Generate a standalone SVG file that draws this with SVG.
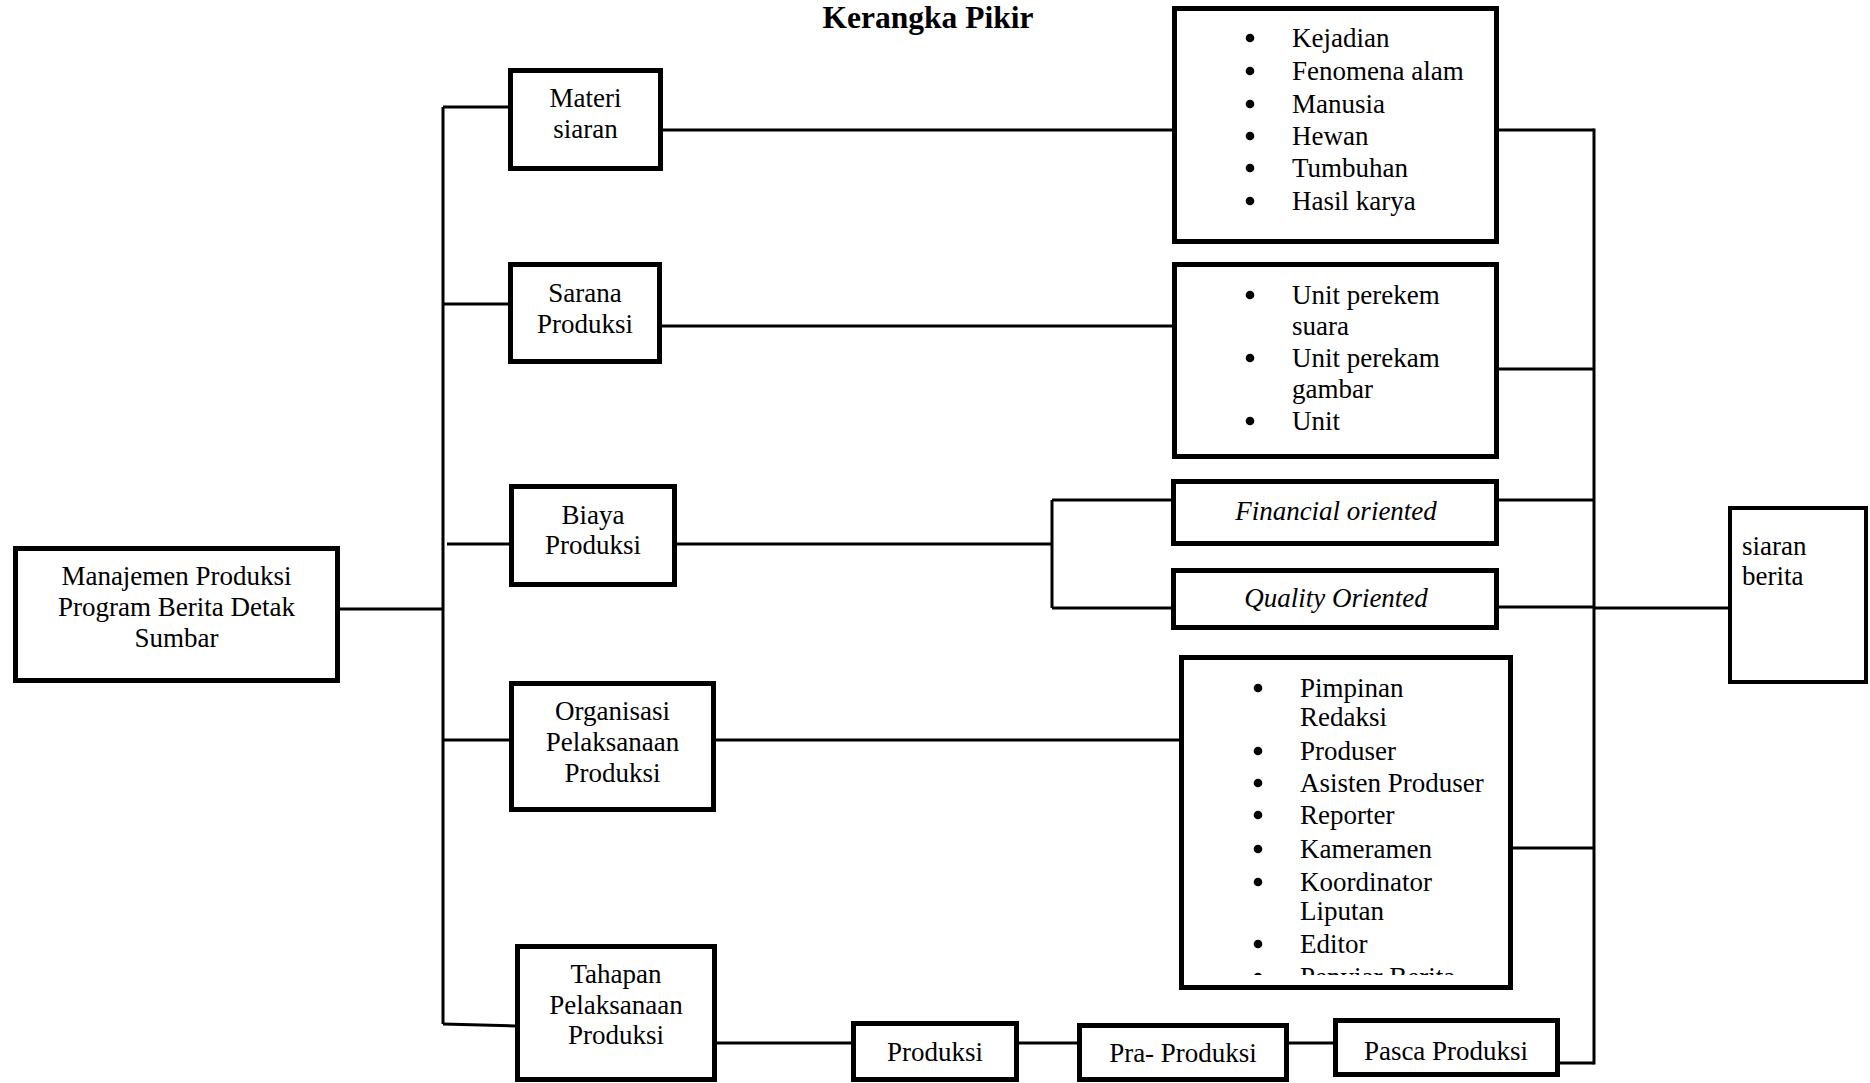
<svg xmlns="http://www.w3.org/2000/svg" width="1870" height="1083" viewBox="0 0 1870 1083">
<style>
  text { font-family: "Liberation Serif", "Times New Roman", serif; font-size: 27px; fill: #000; }
  .c { text-anchor: middle; }
  .title { font-weight: bold; font-size: 31.5px; }
  .it { font-style: italic; }
  .box { fill: #fff; stroke: #000; stroke-width: 5; }
  .box4 { fill: #fff; stroke: #000; stroke-width: 4; }
  .conn line, .conn polyline { stroke: #000; stroke-width: 3; fill: none; }
  .bul { fill: #000; }
</style>
<defs>
  <clipPath id="orgclip"><rect x="1184" y="660" width="324" height="315"/></clipPath>
</defs>
<rect width="1870" height="1083" fill="#fff"/>

<text class="title c" x="928" y="28">Kerangka Pikir</text>

<g id="connectors" class="conn">
  <line x1="340" y1="609" x2="443" y2="609"/>
  <line x1="443" y1="107" x2="443" y2="1024"/>
  <line x1="443" y1="107" x2="508" y2="107"/>
  <line x1="443" y1="304" x2="508" y2="304"/>
  <line x1="447" y1="544" x2="509" y2="544"/>
  <line x1="443" y1="740" x2="509" y2="740"/>
  <line x1="443" y1="1024" x2="515" y2="1026"/>
  <line x1="663" y1="130" x2="1172" y2="130"/>
  <line x1="662" y1="326" x2="1172" y2="326"/>
  <line x1="677" y1="544" x2="1052" y2="544"/>
  <line x1="1052" y1="500" x2="1052" y2="608"/>
  <line x1="1052" y1="500" x2="1171" y2="500"/>
  <line x1="1052" y1="608" x2="1171" y2="608"/>
  <line x1="716" y1="740" x2="1179" y2="740"/>
  <line x1="717" y1="1043" x2="851" y2="1043"/>
  <line x1="1019" y1="1043" x2="1077" y2="1043"/>
  <line x1="1289" y1="1043" x2="1333" y2="1043"/>
  <line x1="1499" y1="130" x2="1594" y2="130"/>
  <line x1="1499" y1="369" x2="1594" y2="369"/>
  <line x1="1499" y1="500" x2="1594" y2="500"/>
  <line x1="1499" y1="607" x2="1594" y2="607"/>
  <line x1="1513" y1="848" x2="1594" y2="848"/>
  <line x1="1560" y1="1063" x2="1594" y2="1063"/>
  <line x1="1594" y1="128.5" x2="1594" y2="1064.5"/>
  <line x1="1594" y1="608" x2="1728" y2="608"/>
</g>

<g id="manajemen">
  <rect class="box" x="15.5" y="548.5" width="322" height="132"/>
  <text class="c" x="176.5" y="585">Manajemen Produksi</text>
  <text class="c" x="176.5" y="616">Program Berita Detak</text>
  <text class="c" x="176.5" y="647">Sumbar</text>
</g>

<g id="materi">
  <rect class="box" x="510.5" y="70.5" width="150" height="98"/>
  <text class="c" x="585.5" y="107">Materi</text>
  <text class="c" x="585.5" y="138">siaran</text>
</g>

<g id="sarana">
  <rect class="box" x="510.5" y="264.5" width="149" height="97"/>
  <text class="c" x="585" y="302">Sarana</text>
  <text class="c" x="585" y="333">Produksi</text>
</g>

<g id="biaya">
  <rect class="box" x="511.5" y="486.5" width="163" height="98"/>
  <text class="c" x="593" y="524">Biaya</text>
  <text class="c" x="593" y="554">Produksi</text>
</g>

<g id="organisasi">
  <rect class="box" x="511.5" y="683.5" width="202" height="126"/>
  <text class="c" x="612.5" y="720">Organisasi</text>
  <text class="c" x="612.5" y="751">Pelaksanaan</text>
  <text class="c" x="612.5" y="782">Produksi</text>
</g>

<g id="tahapan">
  <rect class="box" x="517.5" y="946.5" width="197" height="133"/>
  <text class="c" x="616" y="983">Tahapan</text>
  <text class="c" x="616" y="1014">Pelaksanaan</text>
  <text class="c" x="616" y="1044">Produksi</text>
</g>

<g id="materi-list">
  <rect class="box" x="1174.5" y="8.5" width="322" height="233"/>
  <circle class="bul" cx="1250" cy="38" r="4.3"/><text x="1292" y="47">Kejadian</text>
  <circle class="bul" cx="1250" cy="71" r="4.3"/><text x="1292" y="80">Fenomena alam</text>
  <circle class="bul" cx="1250" cy="104" r="4.3"/><text x="1292" y="113">Manusia</text>
  <circle class="bul" cx="1250" cy="136" r="4.3"/><text x="1292" y="145">Hewan</text>
  <circle class="bul" cx="1250" cy="168" r="4.3"/><text x="1292" y="177">Tumbuhan</text>
  <circle class="bul" cx="1250" cy="201" r="4.3"/><text x="1292" y="210">Hasil karya</text>
</g>

<g id="sarana-list">
  <rect class="box" x="1174.5" y="264.5" width="322" height="192"/>
  <circle class="bul" cx="1250" cy="295" r="4.3"/><text x="1292" y="304">Unit perekem</text>
  <text x="1292" y="335">suara</text>
  <circle class="bul" cx="1250" cy="358" r="4.3"/><text x="1292" y="367">Unit perekam</text>
  <text x="1292" y="398">gambar</text>
  <circle class="bul" cx="1250" cy="421" r="4.3"/><text x="1292" y="430">Unit</text>
</g>

<g id="financial">
  <rect class="box" x="1173.5" y="481.5" width="323" height="62"/>
  <text class="c it" x="1336" y="520">Financial oriented</text>
</g>

<g id="quality">
  <rect class="box" x="1173.5" y="570.5" width="323" height="57"/>
  <text class="c it" x="1336" y="607">Quality Oriented</text>
</g>

<g id="organisasi-list">
  <rect class="box" x="1181.5" y="657.5" width="329" height="330"/>
  <g clip-path="url(#orgclip)">
    <circle class="bul" cx="1258" cy="688" r="4.3"/><text x="1300" y="697">Pimpinan</text>
    <text x="1300" y="726">Redaksi</text>
    <circle class="bul" cx="1258" cy="751" r="4.3"/><text x="1300" y="760">Produser</text>
    <circle class="bul" cx="1258" cy="783" r="4.3"/><text x="1300" y="792">Asisten Produser</text>
    <circle class="bul" cx="1258" cy="815" r="4.3"/><text x="1300" y="824">Reporter</text>
    <circle class="bul" cx="1258" cy="849" r="4.3"/><text x="1300" y="858">Kameramen</text>
    <circle class="bul" cx="1258" cy="882" r="4.3"/><text x="1300" y="891">Koordinator</text>
    <text x="1300" y="920">Liputan</text>
    <circle class="bul" cx="1258" cy="944" r="4.3"/><text x="1300" y="953">Editor</text>
    <circle class="bul" cx="1258" cy="977" r="4.3"/><text x="1300" y="986">Penyiar Berita</text>
  </g>
</g>

<g id="produksi">
  <rect class="box" x="853.5" y="1023.5" width="163" height="56"/>
  <text class="c" x="935" y="1061">Produksi</text>
</g>

<g id="pra-produksi">
  <rect class="box" x="1079.5" y="1025.5" width="207" height="54"/>
  <text class="c" x="1183" y="1062">Pra- Produksi</text>
</g>

<g id="pasca-produksi">
  <rect class="box" x="1335.5" y="1020.5" width="222" height="54"/>
  <text class="c" x="1446" y="1060">Pasca Produksi</text>
</g>

<g id="siaran-berita">
  <rect class="box4" x="1730" y="508" width="136" height="174"/>
  <text x="1742" y="555">siaran</text>
  <text x="1742" y="585">berita</text>
</g>
</svg>
